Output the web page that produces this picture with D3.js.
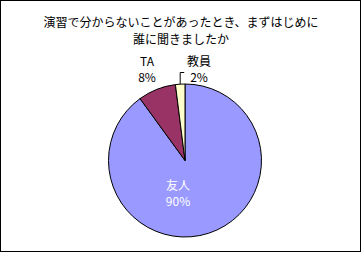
<!DOCTYPE html>
<html><head><meta charset="utf-8">
<script src="https://cdn.jsdelivr.net/npm/d3@7"></script>
<style>body{margin:0;background:#fff}svg{display:block}text{font-family:"Noto Sans CJK JP","Noto Sans",sans-serif;font-size:12px}</style>
</head><body>
<svg id="c" width="362" height="254"></svg>
<script>
// Survey: who did you ask first when you got stuck in the exercise?
const titleLines = ["演習で分からないことがあったとき、まずはじめに", "誰に聞きましたか"];
const categories = ["友人", "TA", "教員"];
const values = [90, 8, 2];
const colors = ["#9999FF", "#993366", "#FFFFCC"];

const svg = d3.select("#c");
svg.append("rect").attr("x", 0.5).attr("y", 0.5).attr("width", 360).attr("height", 251)
  .attr("fill", "#fff").attr("stroke", "#000");

svg.selectAll("text.title").data(titleLines).join("text")
  .attr("class", "title")
  .attr("x", 181).attr("y", (d, i) => 21 + i * 17)
  .attr("text-anchor", "middle").attr("dominant-baseline", "central")
  .text(d => d);

const cx = 185, cy = 160.5, r = 76.5;
const data = categories.map((c, i) => ({ cat: c, value: values[i], color: colors[i] }));
const pie = d3.pie().value(d => d.value).sort(null);
const arcs = pie(data);
const arc = d3.arc().innerRadius(0).outerRadius(r);

const g = svg.append("g").attr("transform", `translate(${cx},${cy})`);
g.selectAll("path").data(arcs).join("path")
  .attr("d", arc).attr("fill", d => d.data.color)
  .attr("stroke", "#000").attr("stroke-width", 1);

// label positions (relative to the pie centre)
const labelPos = [[-7, 24], [-38, -100], [14, -100]];
const labelColor = ["#fff", "#000", "#000"];
arcs.forEach((a, i) => {
  const [lx, ly] = labelPos[i];
  const t = g.append("text").attr("text-anchor", "middle").attr("fill", labelColor[i]);
  t.append("tspan").attr("x", lx).attr("y", ly).attr("dominant-baseline", "central").text(a.data.cat);
  t.append("tspan").attr("x", lx).attr("y", ly + 16).attr("dominant-baseline", "central")
    .text(Math.round(a.data.value) + "%");
});

// leader line for the small slice
const small = arcs[2];
const mid = (small.startAngle + small.endAngle) / 2;
const px = r * Math.sin(mid), py = -r * Math.cos(mid);
g.append("path")
  .attr("d", `M${px},${py} L${px},${-88} L${px + 4},${-88}`)
  .attr("fill", "none").attr("stroke", "#000");
</script>
</body></html>
